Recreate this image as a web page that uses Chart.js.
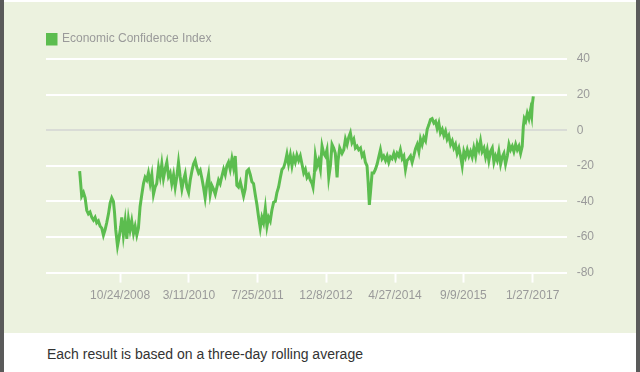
<!DOCTYPE html>
<html>
<head>
<meta charset="utf-8">
<script src="https://cdn.jsdelivr.net/npm/chart.js@4"></script>
<style>
  body { margin: 0; width: 640px; height: 372px; background: #fff; position: relative; overflow: hidden; font-family: "Liberation Sans", Arial, sans-serif; }
  .bar { position: absolute; top: 0; width: 4px; height: 372px; background: #5a5a5a; }
  #panel { position: absolute; left: 4px; top: 2px; width: 632px; height: 331px; background: #ecf2df; }
  #caption { position: absolute; left: 47px; top: 346px; font-size: 14px; color: #333; }
</style>
</head>
<body>
<div class="bar" style="left:0"></div>
<div class="bar" style="left:636px"></div>
<div id="panel"><canvas id="chart" width="632" height="331"></canvas></div>
<div id="caption">Each result is based on a three-day rolling average</div>
<script>
// days since 1/1/2008
const days = [
  1, 5, 16, 29, 41, 53, 65, 77, 90, 102, 114, 126, 138, 151, 163, 175, 187, 199, 212, 224,
  236, 248, 256, 265, 278, 290, 302, 309, 321, 334, 346, 358, 370, 382, 395, 407, 419, 431, 443, 456,
  468, 480, 492, 504, 517, 529, 541, 553, 565, 578, 590, 602, 614, 626, 639, 651, 663, 675, 688, 700,
  712, 724, 736, 749, 761,
  773, 785, 798, 810, 822, 834, 846, 858, 871, 883, 895, 907, 919, 932, 944, 956, 968, 980, 993, 1005,
  1017, 1029, 1041, 1054, 1066, 1078, 1090, 1102, 1115, 1127, 1139, 1151, 1163, 1176, 1188, 1200, 1212, 1224, 1237, 1249,
  1261, 1273, 1285, 1298, 1310, 1322, 1334, 1346, 1359, 1371, 1383, 1395, 1407, 1420, 1432, 1444, 1456, 1468, 1481, 1493,
  1505, 1517, 1529, 1542, 1554, 1566, 1578, 1590, 1603,
  1615, 1627, 1640, 1652, 1664, 1676, 1688, 1701, 1708, 1718, 1725, 1737, 1749, 1762, 1774, 1786, 1798, 1810, 1823, 1835,
  1847, 1859, 1871, 1884, 1891, 1903, 1920, 1933, 1945, 1957, 1969, 1981, 1993, 2006, 2018, 2030, 2042, 2055, 2067, 2079,
  2091, 2103, 2111, 2120, 2128, 2140, 2152, 2164, 2177, 2189, 2201, 2213, 2225, 2238, 2250, 2262, 2274, 2286, 2299, 2311,
  2323, 2335, 2347, 2360, 2372, 2384, 2396, 2408, 2421, 2433, 2445,
  2457, 2470, 2482, 2494, 2506, 2518, 2531, 2543, 2555, 2567, 2579, 2592, 2604, 2616, 2628, 2640, 2653, 2665, 2677, 2689,
  2701, 2714, 2726, 2738, 2750, 2762, 2775, 2787, 2799, 2811, 2823, 2836, 2848, 2860, 2872, 2884, 2897, 2909, 2921, 2933,
  2945, 2958, 2970, 2982, 2994, 3006, 3019, 3031, 3043, 3055, 3067, 3080, 3092, 3104, 3116, 3129, 3141, 3153, 3165, 3177,
  3190, 3202, 3214, 3226, 3238, 3246, 3253, 3263, 3275, 3287, 3299, 3307, 3312, 3319
];

const confidence = [
  -23, -26.5, -37, -35, -38, -45, -47, -46, -49, -50.5, -49, -52, -51, -54, -55, -59, -56, -52, -47, -41,
  -38, -40, -46, -56, -65, -60, -54, -49, -59, -51, -61, -50, -56, -51, -58, -54, -59, -55, -43, -36,
  -30, -26.5, -28, -24, -30, -25, -36, -32, -30, -21, -26, -19, -27, -22, -18, -26, -24, -30, -25, -32,
  -26, -18, -26, -33, -28,
  -24.5, -32, -35, -28, -23, -19, -17, -21, -24, -22.5, -27, -32, -38, -30, -25, -36, -31, -33, -36, -32,
  -28, -30, -26, -22, -25, -20, -18, -22, -16, -21, -14.5, -31, -32, -29, -33, -37, -33, -23, -22, -25,
  -29, -30, -36, -42, -49, -55, -49, -52, -44, -54, -49, -51, -45, -40.5, -40, -35, -32, -27, -22, -21,
  -18, -13.5, -19, -14, -20, -15, -18, -14, -17,
  -14.5, -19, -24, -22, -26.5, -25, -28, -30, -32, -24, -14.5, -20, -17, -22, -9, -13, -14.5, -11, -26.5, -20,
  -8, -10, -13, -26.5, -17, -10, -13, -11, -5, -8, -4, -1.5, -7, -5, -10, -9, -11, -10, -14.5, -13,
  -18, -20, -29, -42, -35, -24, -24, -22, -19, -15, -11, -16, -14.5, -17, -14.5, -18, -15, -16, -13, -16,
  -13, -14.5, -11, -16, -14.5, -22, -17, -16, -14.5, -18, -14.5,
  -10.5, -8, -12, -5, -8, -4, -6, 0.5, 3, 6, 6.5, 4, 5, 1, 4, -1.5, 0.5, -3, -0.5, -5,
  -3, -8, -6, -10, -8, -13, -10, -14.5, -20, -12, -15, -11, -14.5, -12, -15, -10, -14.5, -8, -11, -6,
  -12, -10, -15, -11, -17, -12, -10, -18, -14.5, -17, -12, -19, -15, -13, -19, -14.5, -8, -11, -9, -12,
  -8, -11, -9, -13, -9, 2, 6.5, 5, 9.5, 6.5, 11.5, 8, 14.5, 19
];

const tickLabels = ['10/24/2008', '3/11/2010', '7/25/2011', '12/8/2012', '4/27/2014', '9/9/2015', '1/27/2017'];
const yTicks = [-80, -60, -40, -20, 0, 20, 40];

const DAY = 86400000;
function dayOf(label) {
  const [m, d, y] = label.split('/').map(Number);
  return Math.round((Date.UTC(y, m - 1, d) - Date.UTC(2008, 0, 1)) / DAY);
}
const tickDays = tickLabels.map(dayOf);

// extra room under the legend
const legendGap = {
  id: 'legendGap',
  beforeInit(chart) {
    const fit = chart.legend.fit;
    chart.legend.fit = function () {
      fit.bind(chart.legend)();
      this.height += 4;
    };
  }
};

const font = { family: '"Liberation Sans", Arial, sans-serif', size: 12 };

new Chart(document.getElementById('chart').getContext('2d'), {
  type: 'line',
  data: {
    datasets: [{
      label: 'Economic Confidence Index',
      data: days.map((d, i) => ({ x: d, y: confidence[i] })),
      borderColor: '#5cbd4f',
      backgroundColor: '#5cbd4f',
      borderWidth: 3,
      pointRadius: 0,
      tension: 0,
      fill: false
    }]
  },
  options: {
    responsive: false,
    animation: false,
    layout: { padding: { left: 42, top: 31, right: 32, bottom: 24 } },
    plugins: {
      legend: {
        align: 'start',
        labels: { boxWidth: 10, boxHeight: 10, padding: 0, color: '#9a9a9a', font: font }
      },
      tooltip: { enabled: false }
    },
    scales: {
      x: {
        type: 'linear',
        min: -245,
        max: 3563,
        afterBuildTicks: (axis) => { axis.ticks = tickDays.map(v => ({ value: v })); },
        ticks: {
          autoSkip: false,
          maxRotation: 0,
          padding: 6,
          color: '#9a9a9a',
          font: font,
          callback: (v) => tickLabels[tickDays.indexOf(v)]
        },
        grid: { drawOnChartArea: false, drawTicks: true, tickLength: 10, tickColor: '#ffffff', tickWidth: 2 },
        border: { display: false }
      },
      y: {
        position: 'right',
        min: -80,
        max: 40,
        afterBuildTicks: (axis) => { axis.ticks = yTicks.map(v => ({ value: v })); },
        ticks: { padding: 10, color: '#9a9a9a', font: font },
        grid: {
          drawTicks: false,
          lineWidth: 2,
          color: (ctx) => ctx.tick && ctx.tick.value === 0 ? '#d9dcd6' : '#ffffff'
        },
        border: { display: false }
      }
    }
  },
  plugins: [legendGap]
});
</script>
</body>
</html>
